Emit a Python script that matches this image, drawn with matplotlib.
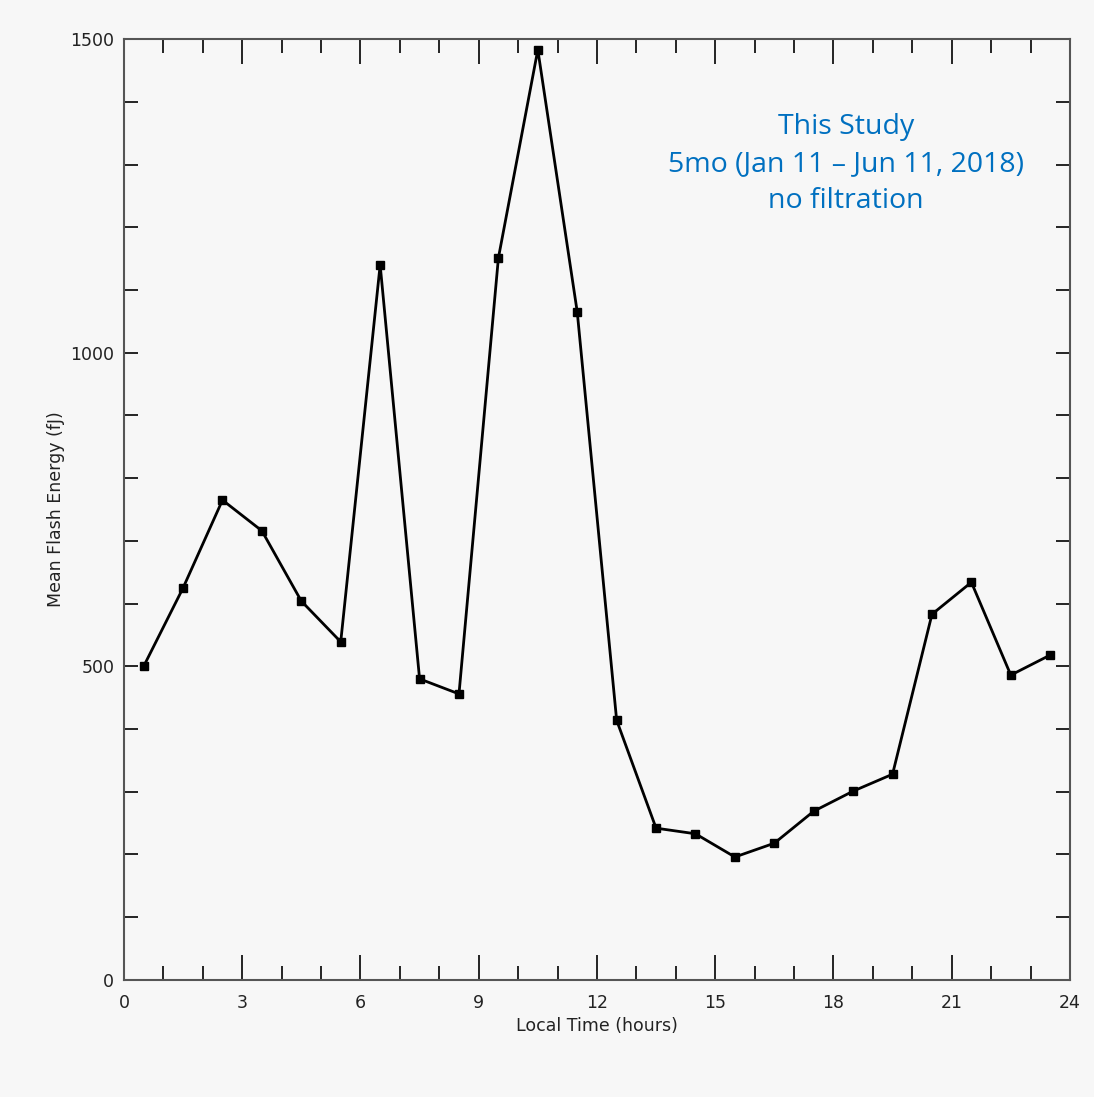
import numpy as np
import matplotlib.pyplot as plt

# hourly bins (local time) and mean flash energy in fJ
hours = np.arange(0.5, 24, 1.0)
energy = [500, 625, 765, 716, 604, 539, 1140, 480, 456, 1151, 1483, 1065,
          414, 242, 233, 196, 218, 269, 301, 328, 583, 634, 486, 518]

bg = "#f7f7f7"
axcol = "#555555"

fig = plt.figure(figsize=(10.94, 10.97), dpi=100, facecolor=bg)
ax = fig.add_axes([0.1133, 0.1067, 0.8647, 0.8577], facecolor=bg)

ax.plot(hours, energy, color="black", lw=2, marker="s", ms=6)

ax.set_xlim(0, 24)
ax.set_ylim(0, 1500)
ax.set_xticks(np.arange(0, 25, 3))
ax.set_xticks(np.arange(0, 25, 1), minor=True)
ax.set_yticks([0, 500, 1000, 1500])
ax.set_yticks(np.arange(0, 1501, 100), minor=True)

for s in ax.spines.values():
    s.set_color(axcol)
    s.set_linewidth(1.5)

ax.tick_params(which="both", direction="in", top=True, right=True,
               color="black", width=1.2, labelsize=12.5, labelcolor="#222222", pad=10)
ax.tick_params(which="major", length=18)
ax.tick_params(which="minor", length=10)
ax.tick_params(axis="y", which="major", length=10, pad=7)

ax.set_xlabel("Local Time (hours)", fontsize=12.5, color="#222222", labelpad=4)
ax.set_ylabel("Mean Flash Energy (fJ)", fontsize=12.5, color="#222222", labelpad=4)

ax.text(0.763, 0.867, "This Study\n5mo (Jan 11 \u2013 Jun 11, 2018)\nno filtration",
        transform=ax.transAxes, ha="center", va="center", color="#0070c0",
        fontsize=20.5, family="Open Sans", linespacing=1.42)

fig.savefig("out.png", dpi=100, facecolor=bg)
